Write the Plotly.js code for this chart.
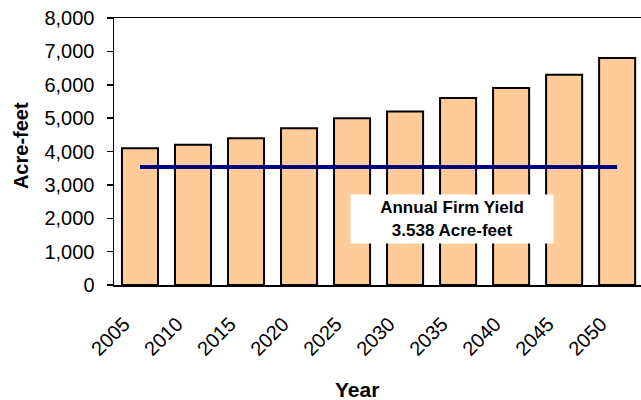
<!DOCTYPE html>
<html>
<head>
<meta charset="utf-8">
<script src="https://cdn.plot.ly/plotly-3.0.1.min.js"></script>
<style>html,body{margin:0;padding:0;background:#fff;}#chart{width:641px;height:400px;}</style>
</head>
<body>
<div id="chart"></div>
<script>
const years = ['2005','2010','2015','2020','2025','2030','2035','2040','2045','2050'];
const demand = [4100, 4200, 4400, 4700, 5000, 5200, 5600, 5900, 6300, 6800];
const yieldYears = ['2005','2050'];
const yieldValues = [3538, 3538];
const yTicks = [0,1000,2000,3000,4000,5000,6000,7000,8000];
const yTickText = ['0','1,000','2,000','3,000','4,000','5,000','6,000','7,000','8,000'];

const FONT = 'Liberation Sans, Arial, sans-serif';

const traces = [
  {
    type: 'bar', x: years, y: demand, width: 0.68,
    marker: {color: '#FFCC99', line: {color: '#000000', width: 2}},
    hoverinfo: 'x+y', showlegend: false
  },
  {
    type: 'scatter', mode: 'lines', x: yieldYears, y: yieldValues,
    line: {color: '#000080', width: 4}, showlegend: false
  }
];

const layout = {
  width: 641, height: 400,
  margin: {l: 114, r: 0, t: 18, b: 115},
  paper_bgcolor: '#ffffff', plot_bgcolor: '#ffffff',
  font: {family: FONT, size: 20, color: '#000000'},
  xaxis: {
    type: 'category', range: [-0.49, 9.45],
    showline: true, linecolor: '#000000', linewidth: 1.5, mirror: true,
    ticks: '', tickangle: -45, showgrid: false, zeroline: false,
    ticklabelstandoff: 18, ticklabelshift: -16,
    tickfont: {family: FONT, size: 20, color: '#000000'}
  },
  yaxis: {
    range: [0, 8000], tickvals: yTicks, ticktext: yTickText,
    showline: true, linecolor: '#000000', linewidth: 1.5,
    ticks: 'outside', ticklen: 6, tickcolor: '#000000', tickwidth: 1.5,
    ticklabelstandoff: 8,
    showgrid: false, zeroline: false,
    tickfont: {family: FONT, size: 20, color: '#000000'}
  },
  annotations: [
    {
      xref: 'paper', yref: 'y', x: 0.641, y: 1976,
      text: '<b>Annual Firm Yield</b><br><b>3.538 Acre-feet</b>',
      showarrow: false, bgcolor: '#ffffff', width: 200, height: 46,
      font: {family: FONT, size: 17, color: '#000000'}
    },
    {
      xref: 'paper', yref: 'paper', x: 0.461, y: -0.39,
      text: '<b>Year</b>', showarrow: false,
      xanchor: 'center', yanchor: 'middle',
      font: {family: FONT, size: 21, color: '#000000'}
    },
    {
      xref: 'paper', yref: 'paper', x: -0.1765, y: 0.524,
      text: '<b>Acre-feet</b>', textangle: -90, showarrow: false,
      xanchor: 'center', yanchor: 'middle',
      font: {family: FONT, size: 20, color: '#000000'}
    }
  ]
};

Plotly.newPlot('chart', traces, layout, {displayModeBar: false, staticPlot: true});
</script>
</body>
</html>
